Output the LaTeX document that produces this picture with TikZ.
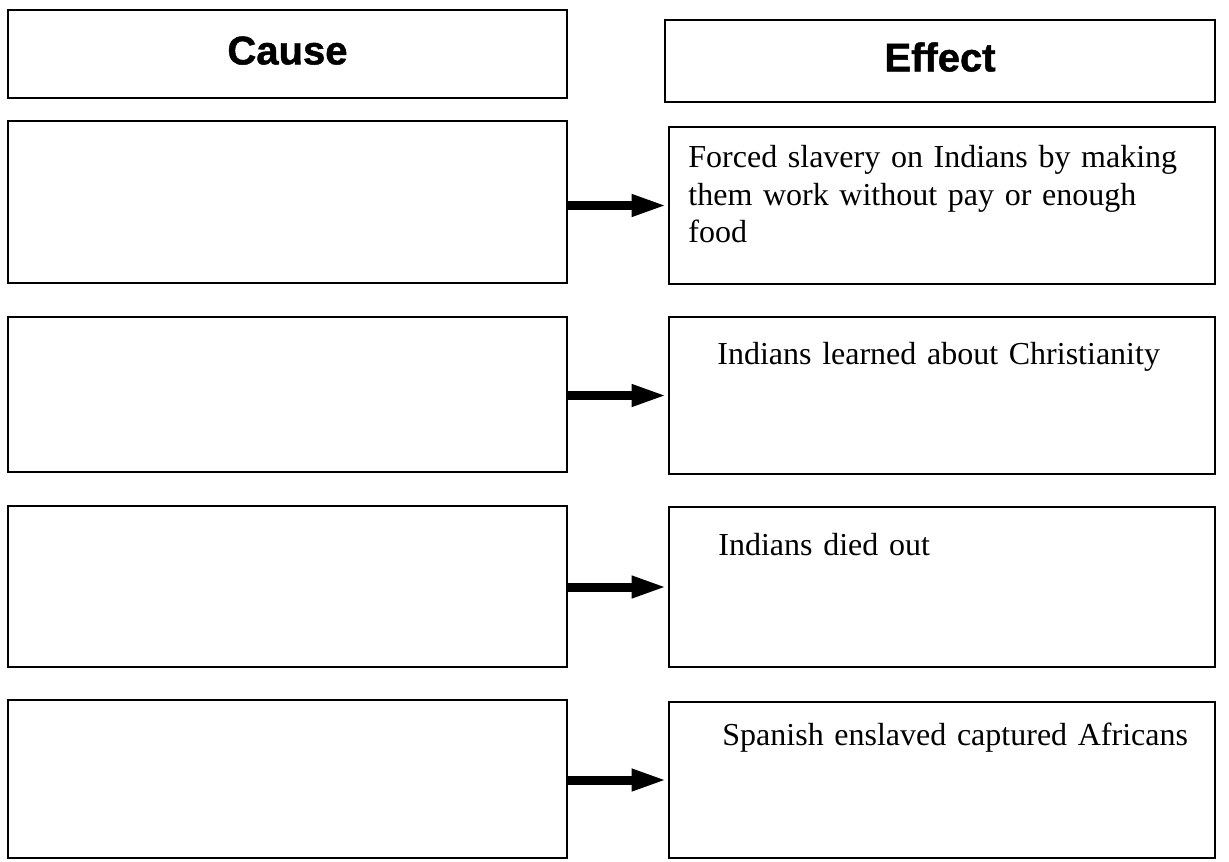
\documentclass[tikz,border=0pt]{standalone}
\usepackage{fontspec}
\setmainfont{Liberation Serif}
\newfontfamily\headfont[BoldFeatures={FakeBold=1.2}]{Liberation Sans}
\usetikzlibrary{arrows.meta}

\begin{document}
\begin{tikzpicture}[x=0.5pt,y=-0.5pt]
\useasboundingbox (0,0) rectangle (1229,861);
\begin{scope}[every node/.style={draw,line width=1.4pt,inner sep=0pt,text height=14.4pt,text depth=4pt,font=\headfont\bfseries\fontsize{20}{24}\selectfont}]

\node[minimum width=279.5pt,minimum height=44pt] (c0) at (287.5,54) {Cause};
\node[minimum width=275pt,minimum height=41pt] (e0) at (940,61) {Effect};

\node[minimum width=279.5pt,minimum height=81pt] (c1) at (287.5,202) {};
\node[minimum width=279.5pt,minimum height=77.5pt] (c2) at (287.5,394.5) {};
\node[minimum width=279.5pt,minimum height=80.5pt] (c3) at (287.5,586.5) {};
\node[minimum width=279.5pt,minimum height=79pt] (c4) at (287.5,779) {};

\node[minimum width=273pt,minimum height=78.5pt] (e1) at (942,205.5) {};
\node[minimum width=273pt,minimum height=78.5pt] (e2) at (942,395.5) {};
\node[minimum width=273pt,minimum height=80pt] (e3) at (942,587) {};
\node[minimum width=273pt,minimum height=78pt] (e4) at (942,780) {};

\end{scope}

\begin{scope}[every node/.style={inner sep=0pt,anchor=base west,text width=262pt,align=left,font=\fontsize{16}{18.75}\selectfont}]
\node (t1) at (688,168) {Forced slavery on Indians by making\\them work without pay or enough\\food};
\node (t2) at (717,364) {Indians learned about Christianity};
\node (t3) at (718,555) {Indians died out};
\node (t4) at (722,745) {Spanish enslaved captured Africans};
\end{scope}

\draw[line width=4.5pt,-{Triangle[length=18pt,width=10pt]}] (c1.east |- e1.west) -- (e1.west);
\draw[line width=4.5pt,-{Triangle[length=18pt,width=10pt]}] (c2.east |- e2.west) -- (e2.west);
\draw[line width=4.5pt,-{Triangle[length=18pt,width=10pt]}] (c3.east |- e3.west) -- (e3.west);
\draw[line width=4.5pt,-{Triangle[length=18pt,width=10pt]}] (c4.east |- e4.west) -- (e4.west);

\end{tikzpicture}
\end{document}
